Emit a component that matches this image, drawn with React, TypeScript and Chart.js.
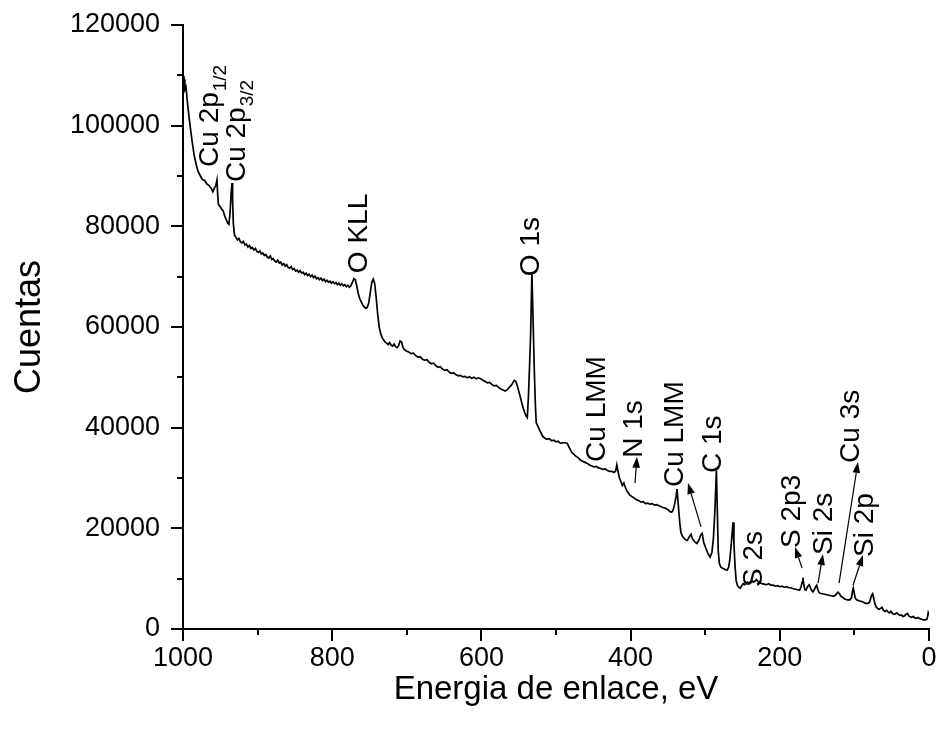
import React, { useEffect, useRef } from 'react';
import { Chart, registerables } from 'chart.js';

Chart.register(...registerables);

const FONT = '"Liberation Sans", Arial, Helvetica, sans-serif';

// ---- Spectrum data (binding energy in eV, counts) ----
const energyCu2p = [
  1000, 998.5, 997.5, 996, 994, 991, 988, 985, 982, 980,
  977, 974, 971, 968, 965, 962, 960, 958, 956, 954.5,
  953.5, 952.5, 950, 948, 946, 944, 942, 940, 938.5, 937,
  935.5, 934.3, 933.5, 932.5, 931,
];
const countsCu2p = [
  108500, 109200, 107200, 107700, 104500, 100600, 97100, 94100, 92100, 91000,
  90100, 89300, 89100, 88400, 88100, 87500, 86900, 87600, 88100, 89200,
  86400, 84300, 83900, 83400, 83000, 82000, 81300, 80600, 80400, 82500,
  86500, 88600, 85000, 80500, 78300,
];

const energyBackground = [
  929, 927, 925, 923, 921, 919, 917, 915, 913, 911,
  909, 907, 905, 903, 901, 899, 897, 895, 893, 891,
  889, 887, 885, 883, 881, 879, 877, 875, 873, 871,
  869, 867, 865, 863, 861, 859, 857, 855, 853, 851,
  849, 847, 845, 843, 841, 839, 837, 835, 833, 831,
  829, 827, 825, 823, 821, 819, 817, 815, 813, 811,
  809, 807, 805, 803, 801, 799, 797, 795, 793, 791,
  789, 787, 785, 783, 781, 779, 777, 775,
];
const countsBackground = [
  77800, 77300, 77600, 76900, 76700, 77000, 76300, 76500, 75900, 76200,
  75600, 75800, 75300, 75600, 75000, 74800, 75100, 74500, 74700, 74200,
  74400, 73900, 73700, 74100, 73400, 73600, 73100, 72900, 73300, 72700,
  72900, 72300, 72600, 72100, 72400, 71800, 71700, 72000, 71400, 71600,
  71100, 71300, 70900, 71200, 70700, 70900, 70400, 70700, 70200, 70500,
  70000, 70300, 69800, 70100, 69600, 69800, 69400, 69700, 69200, 69500,
  69000, 69300, 68900, 69100, 68700, 69000, 68600, 68800, 68400, 68700,
  68300, 68600, 68200, 68400, 68000, 68300, 67900, 68200,
];

const energyOKLL = [
  773, 771, 769, 767, 765, 763, 761, 759, 757, 755,
  753, 751, 749, 747, 745, 743, 741, 739, 737, 735,
  733, 731, 729, 727, 725, 723, 721, 719, 717, 715,
  713, 711, 709, 707, 705, 703, 701,
];
const countsOKLL = [
  68800, 69600, 69400, 68100, 66600, 65600, 65000, 64300, 64000, 63700,
  63900, 64800, 66800, 68800, 69500, 68600, 65800, 62500, 60000, 58700,
  57900, 57400, 57000, 56800, 56500, 56900, 56400, 56200, 56600, 56100,
  55900, 56300, 57200, 57000, 55900, 55500, 55300,
];

const energyMid = [
  697, 694, 691, 688, 685, 682, 679, 676, 673, 670,
  667, 664, 661, 658, 655, 652, 649, 646, 643, 640,
  637, 634, 631, 628, 625, 622, 619, 616, 613, 610,
  607, 604, 601, 598, 595, 592, 589, 586, 583, 580,
  577, 574, 571, 568, 565, 562, 559, 556, 554, 552,
  550, 548, 546, 544, 542, 540, 538.5,
];
const countsMid = [
  55000, 54700, 54800, 54300, 54000, 54100, 53600, 53400, 53500, 53000,
  52700, 52800, 52300, 52000, 52100, 51600, 51400, 51500, 51000, 50800,
  50900, 50500, 50300, 50400, 50100, 50200, 49900, 50100, 49800, 50000,
  49700, 49900, 49700, 49400, 49200, 48900, 49000, 48600, 48300, 48400,
  48000, 47700, 47500, 47300, 47600, 48100, 48600, 49400, 49200, 48400,
  47300, 46200, 45000, 43900, 43000, 42300, 42000,
];

const energyO1s = [
  537, 535.5, 534, 532.3, 530.5, 529, 527.5, 526.5, 524, 521,
  518, 515, 512, 509, 506, 503, 500, 497, 494, 491,
  488, 485, 482, 479, 476, 473, 470, 467, 464, 461,
  458, 455, 452, 449, 446, 443, 440, 437, 434, 431,
  428, 425, 422, 420, 418.5, 417, 415, 413, 411, 409,
  407, 405, 403, 401, 398, 395, 392, 389, 386, 383,
  380, 377, 374, 371, 368, 365, 362, 359, 356, 353,
  350, 347, 345, 343, 341, 339, 337.8, 336, 334, 332.5,
];
const countsO1s = [
  46000, 52000, 58500, 70800, 60000, 51000, 44000, 41000, 40200, 39200,
  38300, 37900, 37700, 37800, 37400, 37500, 37200, 37300, 36900, 37000,
  37000, 36900, 36000, 35100, 34700, 34300, 34000, 33500, 33300, 33100,
  32900, 32600, 32400, 32200, 32300, 32000, 31900, 31700, 31800, 31500,
  31300, 31300, 31100, 31400, 32600, 31400, 30000, 29300, 28500, 29000,
  28100, 27400, 27000, 26600, 26300, 26000, 25700, 25500, 25200, 25300,
  24900, 25000, 24800, 24900, 24600, 24700, 24500, 24300, 24100, 24000,
  23700, 23300, 23200, 23600, 24800, 26300, 27800, 24500, 21000, 19100,
];

const energyLow = [
  330, 327, 324, 321, 319, 317, 314, 311, 308, 306,
  304, 302, 299, 296, 293.5, 291, 289, 287, 285, 283.5,
  282.5, 281, 279, 276, 273, 270.5, 268.5, 267, 265, 262.7,
  261.5, 260, 258.5, 257, 255, 253, 251, 249, 247, 245,
  243, 241, 239, 237, 235, 233, 231, 229, 227, 224,
  221, 218, 215, 212, 209, 206, 203, 200, 197, 194,
  191, 188, 185, 182, 179, 176, 173.5, 171.5, 170, 169,
  168, 166.5, 165, 163.5, 162, 160.5, 159, 157.5, 155.5, 153.5,
  152, 150.5, 149, 147.5, 146, 143, 140, 137, 134, 131,
  128, 125.5, 123.5, 122, 120, 118, 115, 112.5, 109, 106,
  104, 102.5, 101.5, 100.3, 99, 97, 94, 91, 88, 85,
  82, 80, 78.5, 77, 75.5, 74, 72.5, 71, 69, 67,
  65, 63, 61, 59, 57, 55, 53, 51, 49, 47,
  45, 43, 41, 39, 37, 35, 33, 31, 29, 27,
  25, 23, 21, 19, 17, 15, 13, 11, 9, 7,
  5, 3, 2, 1, 0.3,
];
const countsLow = [
  18300, 17800, 17600, 18400, 18800, 17900, 17300, 17000, 17800, 18700,
  19000, 17200, 16000, 14900, 14300, 15200, 18000, 23500, 31500, 22000,
  15500, 13000, 12300, 12000, 11800, 11700, 12300, 13800, 17000, 21200,
  17000, 12500, 9600, 8700, 8300, 8100, 8600, 9000, 8800, 9100,
  9300, 9000, 9200, 9500, 9300, 9600, 9800, 9400, 9200, 9000,
  8900, 8800, 9000, 8700, 8700, 8500, 8600, 8400, 8500, 8300,
  8400, 8200, 8200, 8000, 7900, 7800, 7700, 8400, 9300, 10200,
  9000, 7800, 7700, 8200, 8600, 8800, 8200, 7700, 7400, 7900,
  8400, 8700, 7800, 7300, 7100, 7000, 6900, 6800, 6700, 6600,
  6500, 6700, 7100, 7300, 7000, 6500, 6200, 5900, 5800, 5800,
  6200, 7500, 8100, 7200, 6200, 5800, 5600, 5500, 5300, 5100,
  5100, 5300, 5900, 6700, 7000, 6000, 5000, 4400, 4100, 3900,
  4100, 4300, 3700, 3500, 3700, 3400, 3200, 3500, 3100, 2900,
  3000, 3200, 2900, 2700, 2800, 2500, 2600, 2900, 3100, 2600,
  2400, 2300, 2500, 2200, 2100, 2300, 2100, 2000, 1900, 1800,
  1800, 1900, 2400, 3300, 3100,
];

// ---- Axis ticks ----
const xMajorTicks = [0, 200, 400, 600, 800, 1000];
const xMinorTicks = [100, 300, 500, 700, 900];
const yMajorTicks = [0, 20000, 40000, 60000, 80000, 100000, 120000];
const yMinorTicks = [10000, 30000, 50000, 70000, 90000, 110000];

// ---- Peak labels (anchor = start of vertical text, in data units) ----
const peakLabelText = ['Cu 2p', 'Cu 2p', 'O KLL', 'O 1s', 'Cu LMM', 'N 1s', 'Cu LMM', 'C 1s', 'S 2s', 'S 2p3', 'Si 2s', 'Cu 3s', 'Si 2p'];
const peakLabelSub = ['1/2', '3/2', '', '', '', '', '', '', '', '', '', '', ''];
const peakLabelEnergy = [953, 917, 753.4, 522.8, 434.3, 384.7, 329.8, 278.8, 223.9, 172.9, 130.0, 93.8, 75.1];
const peakLabelCounts = [91800, 88800, 70700, 70100, 33200, 34000, 28200, 31000, 8350, 16100, 14700, 33000, 14300];

// ---- Arrows (tail -> head, data units) ----
const arrowFromEnergy = [394.1, 305.6, 170.2, 148.8, 120.6, 101.9];
const arrowFromCounts = [29000, 20300, 12100, 9100, 9100, 8700];
const arrowToEnergy = [391.4, 323.1, 179.6, 142.1, 95.2, 88.5];
const arrowToCounts = [34200, 29000, 16300, 14900, 33200, 14700];

const energy = [...energyCu2p, ...energyBackground, ...energyOKLL, ...energyMid, ...energyO1s, ...energyLow];
const counts = [...countsCu2p, ...countsBackground, ...countsOKLL, ...countsMid, ...countsO1s, ...countsLow];

const zeroScalePadding = (s: any) => {
  s.paddingTop = 0;
  s.paddingBottom = 0;
  s.paddingLeft = 0;
  s.paddingRight = 0;
};

const decorPlugin = {
  id: 'decor',
  afterDraw(chart: any) {
    const { ctx, chartArea: a, scales } = chart;
    const x = scales.x;
    const y = scales.y;
    ctx.save();
    ctx.strokeStyle = '#000';
    ctx.fillStyle = '#000';
    ctx.lineWidth = 2;
    ctx.lineCap = 'butt';
    // axis lines
    ctx.beginPath();
    ctx.moveTo(a.left, a.top - 1);
    ctx.lineTo(a.left, a.bottom);
    ctx.lineTo(a.right + 1, a.bottom);
    ctx.stroke();
    // ticks
    ctx.beginPath();
    for (const v of xMajorTicks) {
      const px = Math.round(x.getPixelForValue(v));
      ctx.moveTo(px, a.bottom);
      ctx.lineTo(px, a.bottom + 12);
    }
    for (const v of xMinorTicks) {
      const px = Math.round(x.getPixelForValue(v));
      ctx.moveTo(px, a.bottom);
      ctx.lineTo(px, a.bottom + 6);
    }
    for (const v of yMajorTicks) {
      const py = Math.round(y.getPixelForValue(v));
      ctx.moveTo(a.left, py);
      ctx.lineTo(a.left - 12, py);
    }
    for (const v of yMinorTicks) {
      const py = Math.round(y.getPixelForValue(v));
      ctx.moveTo(a.left, py);
      ctx.lineTo(a.left - 6, py);
    }
    ctx.stroke();

    // arrows
    ctx.lineWidth = 1.2;
    for (let i = 0; i < arrowFromEnergy.length; i++) {
      const x0 = x.getPixelForValue(arrowFromEnergy[i]);
      const y0 = y.getPixelForValue(arrowFromCounts[i]);
      const x1 = x.getPixelForValue(arrowToEnergy[i]);
      const y1 = y.getPixelForValue(arrowToCounts[i]);
      const ang = Math.atan2(y1 - y0, x1 - x0);
      const hl = 11;
      const hw = 3.8;
      const bx = x1 - hl * Math.cos(ang);
      const by = y1 - hl * Math.sin(ang);
      ctx.beginPath();
      ctx.moveTo(x0, y0);
      ctx.lineTo(bx, by);
      ctx.stroke();
      ctx.beginPath();
      ctx.moveTo(x1, y1);
      ctx.lineTo(bx + hw * Math.sin(ang), by - hw * Math.cos(ang));
      ctx.lineTo(bx - hw * Math.sin(ang), by + hw * Math.cos(ang));
      ctx.closePath();
      ctx.fill();
    }

    // vertical peak labels
    for (let i = 0; i < peakLabelText.length; i++) {
      const px = x.getPixelForValue(peakLabelEnergy[i]);
      const py = y.getPixelForValue(peakLabelCounts[i]);
      ctx.save();
      ctx.translate(px, py);
      ctx.rotate(-Math.PI / 2);
      ctx.textAlign = 'left';
      ctx.textBaseline = 'alphabetic';
      ctx.font = `28px ${FONT}`;
      ctx.fillText(peakLabelText[i], 0, 0);
      if (peakLabelSub[i]) {
        const w = ctx.measureText(peakLabelText[i]).width;
        ctx.font = `19px ${FONT}`;
        ctx.fillText(peakLabelSub[i], w + 1, 8);
      }
      ctx.restore();
    }
    ctx.restore();
  },
};

export default function App() {
  const canvasRef = useRef<HTMLCanvasElement | null>(null);

  useEffect(() => {
    const canvas = canvasRef.current;
    if (!canvas) return;
    const chart = new Chart(canvas, {
      type: 'line',
      data: {
        datasets: [
          {
            data: energy.map((e, i) => ({ x: e, y: counts[i] })),
            borderColor: '#000',
            borderWidth: 1.7,
            pointRadius: 0,
            tension: 0,
            fill: false,
          },
        ],
      },
      options: {
        responsive: false,
        animation: false,
        devicePixelRatio: 1,
        layout: { padding: { left: 0, right: 8, top: 25, bottom: 0 } },
        plugins: { legend: { display: false }, tooltip: { enabled: false } },
        scales: {
          x: {
            type: 'linear',
            reverse: true,
            min: 0,
            max: 1000,
            afterFit: (s: any) => {
              s.height = 106;
              zeroScalePadding(s);
            },
            grid: { display: false, drawTicks: false },
            border: { display: false },
            ticks: {
              stepSize: 200,
              autoSkip: false,
              maxRotation: 0,
              padding: 13,
              color: '#000',
              font: { family: FONT, size: 27 },
              callback: (v: any) => String(v),
            },
            title: {
              display: true,
              text: 'Energia de enlace, eV',
              color: '#000',
              font: { family: FONT, size: 33 },
              padding: { top: 0, bottom: 25 },
            },
          },
          y: {
            type: 'linear',
            min: 0,
            max: 120000,
            afterFit: (s: any) => {
              s.width = 183;
              zeroScalePadding(s);
            },
            grid: { display: false, drawTicks: false },
            border: { display: false },
            ticks: {
              stepSize: 20000,
              autoSkip: false,
              padding: 23,
              color: '#000',
              font: { family: FONT, size: 27 },
              callback: (v: any) => String(v),
            },
            title: {
              display: true,
              text: 'Cuentas',
              color: '#000',
              font: { family: FONT, size: 36 },
              padding: { top: 8, bottom: 0 },
            },
          },
        },
      },
      plugins: [decorPlugin],
    } as any);
    return () => chart.destroy();
  }, []);

  return (
    <div style={{ position: 'absolute', left: 0, top: 0, width: 937, height: 735, background: '#fff' }}>
      <canvas ref={canvasRef} width={937} height={735} style={{ display: 'block' }} />
    </div>
  );
}
